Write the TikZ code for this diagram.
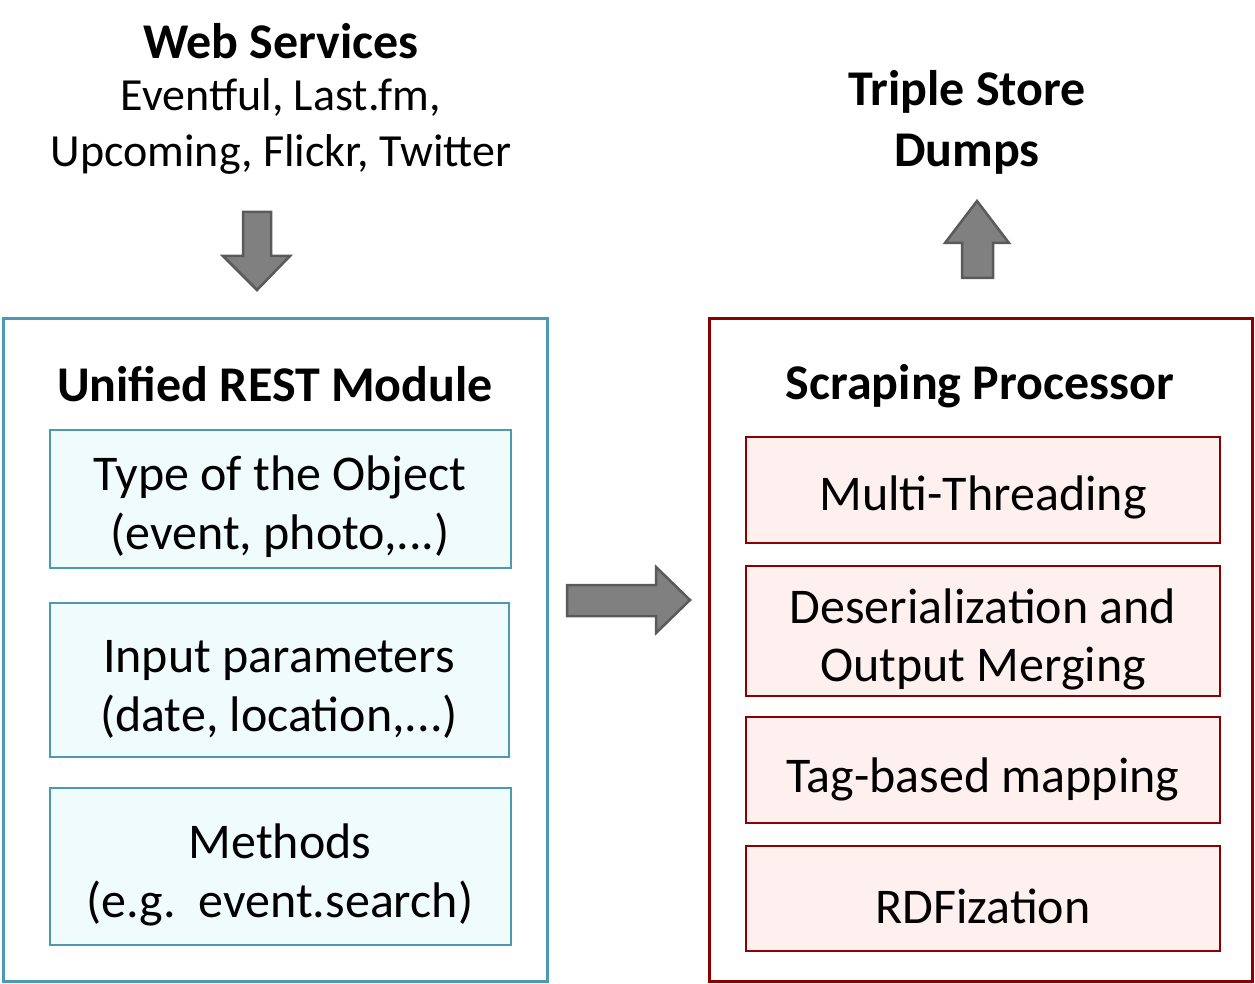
\documentclass[tikz,border=0pt]{standalone}
\usepackage{fontspec}
\setmainfont{Carlito}
\definecolor{teal1}{RGB}{74,155,176}
\definecolor{tealfill}{RGB}{240,252,252}
\definecolor{red1}{RGB}{140,0,0}
\definecolor{redfill}{RGB}{255,240,240}
\definecolor{arrowfill}{RGB}{128,128,128}
\definecolor{arrowline}{RGB}{90,90,90}
\tikzset{
  outerL/.style={draw=teal1, line width=3pt},
  innerL/.style={draw=teal1, fill=tealfill, line width=2.5pt},
  outerR/.style={draw=red1, line width=3pt},
  innerR/.style={draw=red1, fill=redfill, line width=2.5pt},
  blockarrow/.style={draw=arrowline, fill=arrowfill, line width=2.5pt, line join=miter},
  lbl/.style={font=\fontsize{50}{59}\selectfont, align=center, inner sep=0pt},
  ttl/.style={font=\fontsize{50}{60}\selectfont\bfseries, align=center, inner sep=0pt},
}
\begin{document}
\begin{tikzpicture}[x=1pt,y=-1pt]
\useasboundingbox (0,0) rectangle (1255,984);
% left module
\draw[outerL] (3,318) rectangle (547,981);
\node[ttl] (ltitle) at (275,384) {Unified REST Module};
\draw[innerL] (50,430) rectangle (511,568);
\node[lbl] (l1) at (280,507) {Type of the Object\\(event, photo,...)};
\draw[innerL] (50,603) rectangle (509,757);
\node[lbl] (l2) at (279,689) {Input parameters\\(date, location,...)};
\draw[innerL] (50,788) rectangle (511,945);
\node[lbl] (l3) at (280,875) {Methods\\(e.g.\ \ event.search)};
% right module
\draw[outerR] (709,318) rectangle (1252,981);
\node[ttl] (rtitle) at (980,386) {Scraping Processor};
\draw[innerR] (746,437) rectangle (1220,543);
\node[lbl] (r1) at (983,497) {Multi-Threading};
\draw[innerR] (746,566) rectangle (1220,696);
\node[lbl, font=\fontsize{50}{58}\selectfont] (r2) at (983,639) {Deserialization and\\Output Merging};
\draw[innerR] (746,717) rectangle (1220,823);
\node[lbl] (r3) at (983,779) {Tag-based mapping};
\draw[innerR] (746,846) rectangle (1220,951);
\node[lbl] (r4) at (983,906) {RDFization};
% top texts
\node[ttl] (ws) at (281,41) {Web Services};
\node[lbl, font=\fontsize{46}{56}\selectfont] (wsl) at (281,126) {Eventful, Last.fm,\\Upcoming, Flickr, Twitter};
\node[ttl, font=\fontsize{50}{61}\selectfont\bfseries] (ts) at (967,122) {Triple Store\\Dumps};
% block arrows
\draw[blockarrow] (243,212) -- (271,212) -- (271,256) -- (290,256) -- (257,290) -- (223,256) -- (243,256) -- cycle;
\draw[blockarrow] (567,585) -- (656,585) -- (656,567) -- (690,600) -- (656,633) -- (656,616) -- (567,616) -- cycle;
\draw[blockarrow] (962,278) -- (993,278) -- (993,243) -- (1009,243) -- (977,201) -- (945,243) -- (962,243) -- cycle;
\end{tikzpicture}
\end{document}
